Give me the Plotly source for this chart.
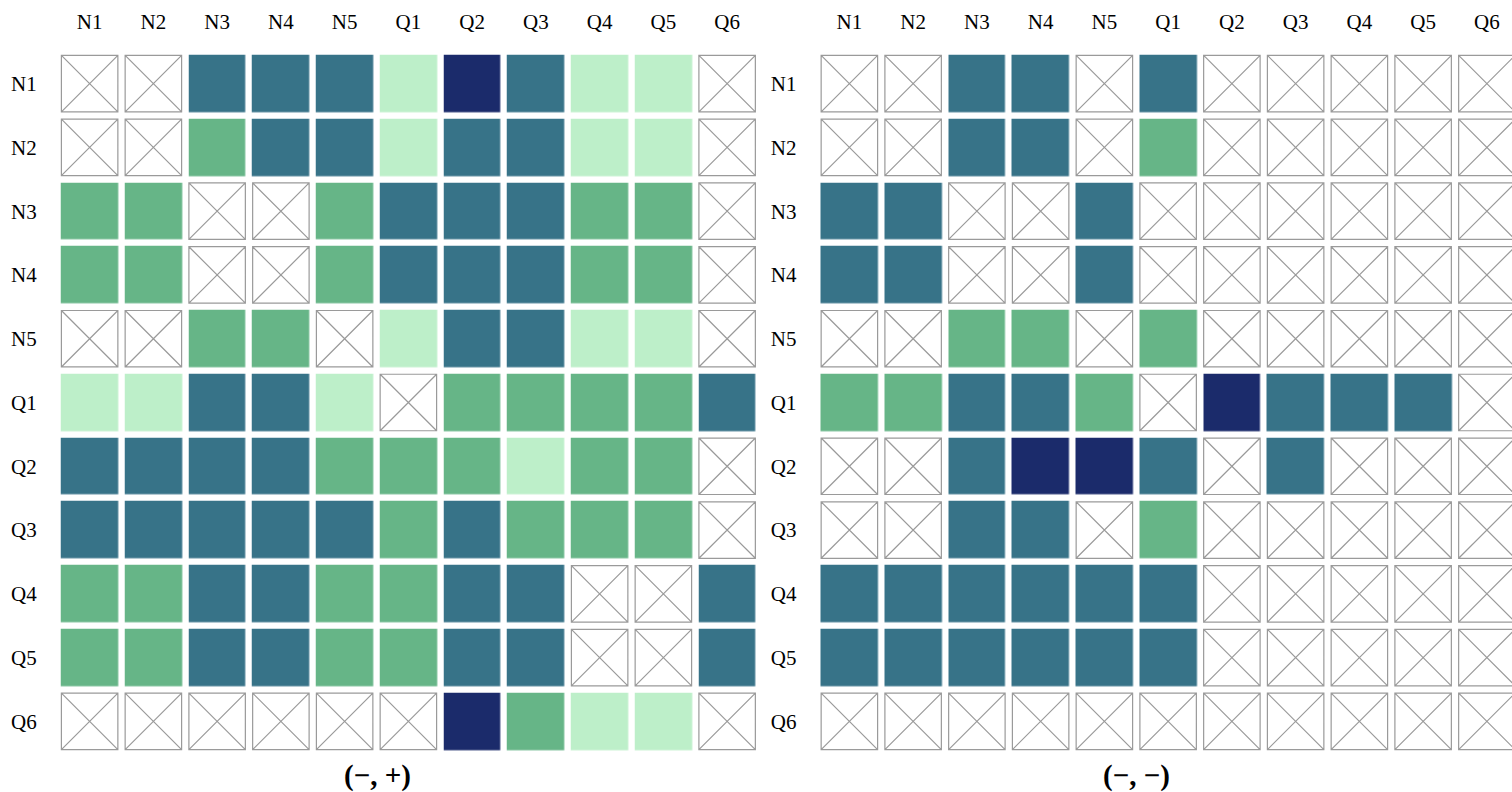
import plotly.graph_objects as go

labels = ["N1", "N2", "N3", "N4", "N5", "Q1", "Q2", "Q3", "Q4", "Q5", "Q6"]

# 0 = not applicable (crossed box), 1 = light, 2 = medium, 3 = strong, 4 = strongest
neg_pos = [
    [0, 0, 3, 3, 3, 1, 4, 3, 1, 1, 0],
    [0, 0, 2, 3, 3, 1, 3, 3, 1, 1, 0],
    [2, 2, 0, 0, 2, 3, 3, 3, 2, 2, 0],
    [2, 2, 0, 0, 2, 3, 3, 3, 2, 2, 0],
    [0, 0, 2, 2, 0, 1, 3, 3, 1, 1, 0],
    [1, 1, 3, 3, 1, 0, 2, 2, 2, 2, 3],
    [3, 3, 3, 3, 2, 2, 2, 1, 2, 2, 0],
    [3, 3, 3, 3, 3, 2, 3, 2, 2, 2, 0],
    [2, 2, 3, 3, 2, 2, 3, 3, 0, 0, 3],
    [2, 2, 3, 3, 2, 2, 3, 3, 0, 0, 3],
    [0, 0, 0, 0, 0, 0, 4, 2, 1, 1, 0],
]

neg_neg = [
    [0, 0, 3, 3, 0, 3, 0, 0, 0, 0, 0],
    [0, 0, 3, 3, 0, 2, 0, 0, 0, 0, 0],
    [3, 3, 0, 0, 3, 0, 0, 0, 0, 0, 0],
    [3, 3, 0, 0, 3, 0, 0, 0, 0, 0, 0],
    [0, 0, 2, 2, 0, 2, 0, 0, 0, 0, 0],
    [2, 2, 3, 3, 2, 0, 4, 3, 3, 3, 0],
    [0, 0, 3, 4, 4, 3, 0, 3, 0, 0, 0],
    [0, 0, 3, 3, 0, 2, 0, 0, 0, 0, 0],
    [3, 3, 3, 3, 3, 3, 0, 0, 0, 0, 0],
    [3, 3, 3, 3, 3, 3, 0, 0, 0, 0, 0],
    [0, 0, 0, 0, 0, 0, 0, 0, 0, 0, 0],
]

panel_titles = ["(\u2212, +)", "(\u2212, \u2212)"]

colors = ["#BDEFC9", "#66B587", "#377388", "#1B2B6B"]
colorscale = [
    [0.0, colors[0]], [0.25, colors[0]],
    [0.25, colors[1]], [0.5, colors[1]],
    [0.5, colors[2]], [0.75, colors[2]],
    [0.75, colors[3]], [1.0, colors[3]],
]

W, H = 1512, 792
P = 63.75
GAP = 6.5
FONT = "Liberation Serif"

fig = go.Figure()

for k, mat in enumerate([neg_pos, neg_neg]):
    xa = "x" if k == 0 else "x2"
    ya = "y" if k == 0 else "y2"
    z = [[v if v > 0 else None for v in row] for row in mat]
    fig.add_trace(go.Heatmap(
        x=labels, y=labels, z=z, xaxis=xa, yaxis=ya,
        colorscale=colorscale, zmin=0.5, zmax=4.5, showscale=False,
        xgap=GAP, ygap=GAP, hoverinfo="skip",
    ))
    xs, ys = [], []
    for i, row in enumerate(mat):
        for j, v in enumerate(row):
            if v == 0:
                xs.append(labels[j])
                ys.append(labels[i])
    fig.add_trace(go.Scatter(
        x=xs, y=ys, xaxis=xa, yaxis=ya, mode="markers",
        marker=dict(symbol="square-x-open", size=P - GAP - 0.8,
                    color="#9a9a9a", line=dict(width=1.2, color="#9a9a9a")),
        hoverinfo="skip", showlegend=False, cliponaxis=False,
    ))

left0 = 57.75
right0 = 817.5
ytop, ybot = 51.75, 753.25

common_x = dict(showgrid=False, zeroline=False, showline=False, ticks="",
                side="top", tickfont=dict(family=FONT, size=21, color="black"),
                ticklabelstandoff=18, fixedrange=True, automargin=False)
common_y = dict(showgrid=False, zeroline=False, showline=False, ticks="",
                tickfont=dict(family=FONT, size=21, color="black"),
                ticklabelstandoff=20, fixedrange=True, automargin=False,
                domain=[(H - ybot) / H, (H - ytop) / H], range=[10.5, -0.5])

title_y = (H - 775) / H

fig.update_layout(
    width=W, height=H,
    margin=dict(l=0, r=0, t=0, b=0, autoexpand=False),
    paper_bgcolor="white", plot_bgcolor="white",
    showlegend=False,
    xaxis=dict(common_x, domain=[left0 / W, (left0 + 11 * P) / W], range=[-0.5, 10.5], anchor="y"),
    yaxis=dict(common_y, anchor="x"),
    xaxis2=dict(common_x, domain=[right0 / W, 1.0], range=[-0.5, -0.5 + (W - right0) / P], anchor="y2"),
    yaxis2=dict(common_y, anchor="x2"),
    annotations=[
        dict(text="<b>%s</b>" % panel_titles[0], x=377 / W, y=title_y,
             xref="paper", yref="paper", xanchor="center", yanchor="middle",
             showarrow=False, font=dict(family=FONT, size=29, color="black")),
        dict(text="<b>%s</b>" % panel_titles[1], x=1136 / W, y=title_y,
             xref="paper", yref="paper", xanchor="center", yanchor="middle",
             showarrow=False, font=dict(family=FONT, size=29, color="black")),
    ],
)

fig.write_html(
    "out.html",
    config={"displayModeBar": False, "staticPlot": True},
    post_script="document.body.style.margin='0';document.body.style.overflow='hidden';",
)
